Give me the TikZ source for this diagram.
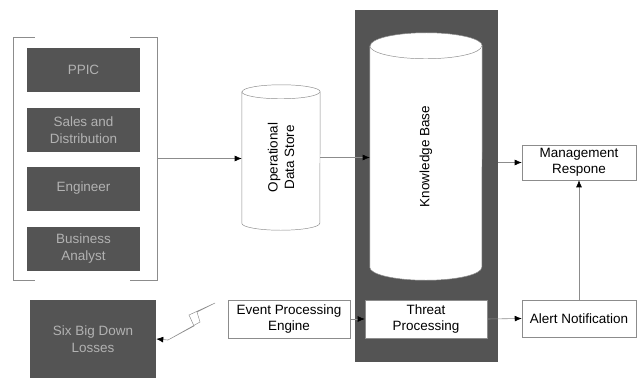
\documentclass[tikz,border=0pt]{standalone}
\usepackage{fontspec}
\setmainfont{Liberation Sans}
\usetikzlibrary{calc}
\usetikzlibrary{arrows.meta}

\definecolor{darkfill}{HTML}{545454}
\definecolor{lighttext}{HTML}{B2B2B2}
\definecolor{thinline}{HTML}{8C8C8C}

\begin{document}
\begin{tikzpicture}[x=0.03cm, y=0.03cm,
    font=\fontsize{11.5}{14}\selectfont,
    darkbox/.style={fill=darkfill, text=lighttext, align=center, inner sep=0pt},
    lightbox/.style={draw=thinline, fill=white, align=center, inner sep=0pt},
    link/.style={draw=thinline, line width=0.5pt, -{Latex[length=6pt,width=5pt,color=black]}}]
      \useasboundingbox (0,0) rectangle (637,378);

      % departments
      \node[darkbox, minimum width=3.39cm, minimum height=1.32cm] (ppic) at (83.5,308) {PPIC};
      \node[darkbox, minimum width=3.39cm, minimum height=1.32cm] (sales) at (83.5,248) {Sales and\\Distribution};
      \node[darkbox, minimum width=3.39cm, minimum height=1.32cm] (engineer) at (83.5,189.5) {Engineer};
      \node[darkbox, minimum width=3.39cm, minimum height=1.32cm] (analyst) at (83.5,129.5) {Business\\Analyst};
      \node[minimum width=4.32cm, minimum height=7.29cm, inner sep=0pt] (dept) at (85,219.5) {};
      \draw[thinline] ($(dept.north west)+(22,0)$) -- (dept.north west) -- (dept.south west) -- ++(22,0);
      \draw[thinline] ($(dept.north east)+(-27,0)$) -- (dept.north east) -- (dept.south east) -- ++(-27,0);

      % operational data store
      \node[minimum width=2.34cm, minimum height=4.35cm, inner sep=0pt] (ods) at (281,220.5) {};
      \draw[thinline, fill=white] ([yshift=-0.21cm]ods.north west) -- ([yshift=0.21cm]ods.south west)
        arc[start angle=180, end angle=360, x radius=1.17cm, y radius=0.21cm]
        -- ([yshift=-0.21cm]ods.north east)
        arc[start angle=0, end angle=180, x radius=1.17cm, y radius=0.21cm] -- cycle;
      \draw[thinline] ([yshift=-0.21cm]ods.north west)
        arc[start angle=180, end angle=360, x radius=1.17cm, y radius=0.21cm];
      \node[rotate=90, align=center] at (ods.center) {Operational\\Data Store};

      % knowledge base block
      \node[darkbox, minimum width=4.29cm, minimum height=10.56cm] (back) at (426.5,192) {};
      \node[minimum width=3.36cm, minimum height=7.41cm, inner sep=0pt] (kb) at (426,221.5) {};
      \draw[thinline, fill=white] ([yshift=-0.39cm]kb.north west) -- ([yshift=0.39cm]kb.south west)
        arc[start angle=180, end angle=360, x radius=1.68cm, y radius=0.39cm]
        -- ([yshift=-0.39cm]kb.north east)
        arc[start angle=0, end angle=180, x radius=1.68cm, y radius=0.39cm] -- cycle;
      \draw[thinline] ([yshift=-0.39cm]kb.north west)
        arc[start angle=180, end angle=360, x radius=1.68cm, y radius=0.39cm];
      \node[rotate=90] at (kb.center) {Knowledge Base};
      \node[lightbox, minimum width=3.66cm, minimum height=1.14cm] (threat) at (426,59) {Threat\\Processing};

      % right and bottom boxes
      \node[lightbox, minimum width=3.42cm, minimum height=1.05cm] (mgmt) at (579,215.5) {Management\\Respone};
      \node[lightbox, minimum width=3.42cm, minimum height=1.11cm] (alert) at (579,59.5) {Alert Notification};
      \node[lightbox, minimum width=3.66cm, minimum height=1.14cm] (event) at (289,59) {Event Processing\\Engine};
      \node[darkbox, minimum width=3.78cm, minimum height=2.34cm] (six) at (93,39) {Six Big Down\\Losses};

      % lightning
      \coordinate (bolt) at (215,75);
      \coordinate (tip) at (168,38);
      \draw[thinline] (bolt) -- ++(-26,-12) -- ++(5,-11) -- (tip) -- ++(32,18) -- ++(-3,10) -- cycle;

      % connectors
      \draw[link] (dept.east) -- (dept.east -| ods.west);
      \draw[link] (ods.east) -- (ods.east -| kb.west);
      \draw[link] (mgmt.west -| back.east) -- (mgmt.west);
      \draw[link] (alert.north) -- (mgmt.south);
      \draw[link] (threat.east) -- (alert.west);
      \draw[link] (event.east) -- (threat.west);
      \draw[link] (tip) -- (six.east);
\end{tikzpicture}
\end{document}
